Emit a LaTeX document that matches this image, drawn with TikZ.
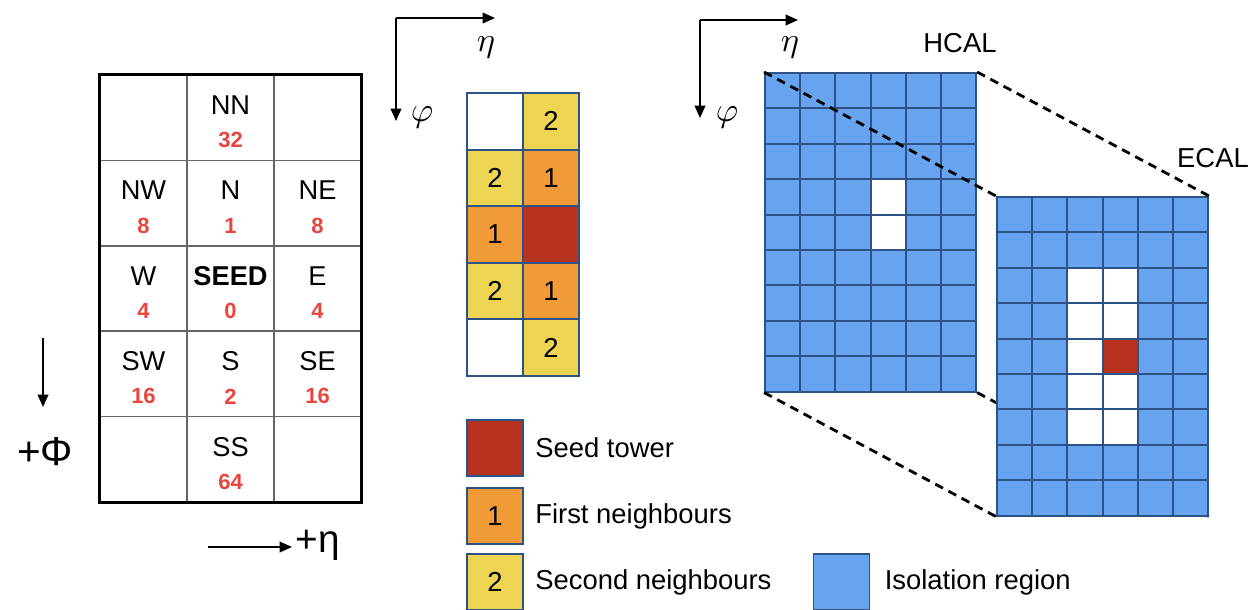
\documentclass[tikz,border=0pt]{standalone}
\usepackage{graphicx}
\usepackage{fontspec}
\setmainfont{Liberation Sans}
\usepackage{tikz}
\usetikzlibrary{arrows.meta, positioning, backgrounds}
\definecolor{towerred}{HTML}{B83220}
\definecolor{firstorange}{HTML}{F09A38}
\definecolor{secondyellow}{HTML}{EDD452}
\definecolor{isoblue}{HTML}{67A3EE}
\definecolor{cellborder}{HTML}{2D5288}
\definecolor{bitred}{HTML}{E8453C}

\begin{document}
\begin{tikzpicture}[x=0.02cm, y=-0.02cm]
    \tikzstyle{dircell}=[draw=gray!80!black, line width=0.8pt, minimum width=1.74cm, minimum height=1.708cm, inner sep=0pt]
    \tikzstyle{dirname}=[inner sep=0pt, font=\fontsize{15.5}{18}\selectfont]
    \tikzstyle{dirbit}=[inner sep=0pt, text=bitred, font=\fontsize{12.5}{15}\selectfont\bfseries]
    \tikzstyle{tower}=[draw=cellborder, line width=1.1pt, minimum width=1.12cm, minimum height=1.13cm,
                       inner sep=0pt, font=\fontsize{15.6}{18}\selectfont]
    \tikzstyle{calo}=[draw=cellborder, line width=1.1pt, minimum width=0.704cm, minimum height=0.708cm, inner sep=0pt]
    \tikzstyle{axis}=[-{Triangle[length=7pt,width=6pt]}, line width=1.1pt]
    \tikzstyle{link}=[dash pattern=on 5pt off 3.5pt, line width=1.6pt]
    \tikzstyle{caption}=[inner sep=0pt, font=\fontsize{15.6}{18}\selectfont]
    \tikzstyle{greek}=[inner sep=0pt]

    \useasboundingbox (0,0) rectangle (1250,609);

    % directions around the seed
    \foreach \c in {1,2,3}
      \foreach \r in {1,...,5}
        \node[dircell] (d-\c-\r) at ({100+87*(\c-0.5)},{75+85.4*(\r-0.5)}) {};
    \draw[line width=2pt] (d-1-1.north west) rectangle (d-3-5.south east);
    \foreach \c/\r/\name/\bit in {2/1/NN/32, 1/2/NW/8, 2/2/N/1, 3/2/NE/8, 1/3/W/4, 2/3/\textbf{SEED}/0,
                                  3/3/E/4, 1/4/SW/16, 2/4/S/2, 3/4/SE/16, 2/5/SS/64}{
      \node[dirname] (n-\c-\r) at ([yshift=0.25cm]d-\c-\r.center) {\name};
      \node[dirbit]  (b-\c-\r) at ([yshift=-0.45cm]d-\c-\r.center) {\bit};
    }
    \coordinate (phi-start) at (43,338);
    \coordinate (phi-end)   at (43,407);
    \draw[axis] (phi-start) -- (phi-end);
    \node[inner sep=0pt, font=\fontsize{23}{25}\selectfont] (phi) at (45,452) {+Φ};
    \coordinate (eta-start) at (208,547);
    \coordinate (eta-end)   at (292,547);
    \draw[axis] (eta-start) -- (eta-end);
    \node[inner sep=0pt, font=\fontsize{22}{24}\selectfont] (eta) at (318,545) {+η};

    % neighbour map
    \coordinate (m-corner) at (396,18);
    \coordinate (m-eta)    at (495,18);
    \coordinate (m-phi)    at (396,121);
    \draw[axis] (m-corner) -- (m-eta);
    \draw[axis] (m-corner) -- (m-phi);
    \node[greek] (m-eta-label) at (486,47)  {\scalebox{1.95}{$\eta$}};
    \node[greek] (m-phi-label) at (422,117) {\scalebox{1.95}{$\varphi$}};
    \foreach \c/\r/\shade/\rank in {1/1/white/{}, 2/1/secondyellow/2, 1/2/secondyellow/2, 2/2/firstorange/1,
                                    1/3/firstorange/1, 2/3/towerred/{}, 1/4/secondyellow/2, 2/4/firstorange/1,
                                    1/5/white/{}, 2/5/secondyellow/2}
      \node[tower, fill=\shade] (t-\c-\r) at ({467+56*(\c-0.5)},{93+56.6*(\r-0.5)}) {\rank};

    % legend
    \node[tower, fill=towerred]     (key-seed)   at (495,448) {};
    \node[tower, fill=firstorange]  (key-first)  at (495,516) {1};
    \node[tower, fill=secondyellow] (key-second) at (495,582) {2};
    \node[tower, fill=isoblue]      (key-iso)    at (841.5,582) {};
    \node[caption, right=0.22cm of key-seed]   (txt-seed)   {Seed tower};
    \node[caption, right=0.22cm of key-first]  (txt-first)  {First neighbours};
    \node[caption, right=0.22cm of key-second] (txt-second) {Second neighbours};
    \node[caption, right=0.28cm of key-iso]    (txt-iso)    {Isolation region};

    % HCAL
    \coordinate (c-corner) at (700,20);
    \coordinate (c-eta)    at (798,20);
    \coordinate (c-phi)    at (700,118);
    \draw[axis] (c-corner) -- (c-eta);
    \draw[axis] (c-corner) -- (c-phi);
    \node[greek] (c-eta-label) at (790,47)  {\scalebox{1.95}{$\eta$}};
    \node[greek] (c-phi-label) at (727,117) {\scalebox{1.95}{$\varphi$}};
    \foreach \c in {1,...,6}
      \foreach \r in {1,...,9}{
        \def\shade{isoblue}
        \ifnum\c=4 \ifnum\r>3 \ifnum\r<6 \def\shade{white}\fi\fi\fi
        \node[calo, fill=\shade] (h-\c-\r) at ({765+35.2*(\c-0.5)},{73+35.4*(\r-0.5)}) {};
      }
    \node[caption] (hcal) at (960,43) {HCAL};

    % ECAL
    \foreach \c in {1,...,6}
      \foreach \r in {1,...,9}{
        \def\shade{isoblue}
        \ifnum\c>2 \ifnum\c<5 \ifnum\r>2 \ifnum\r<8 \def\shade{white}\fi\fi\fi\fi
        \ifnum\c=4 \ifnum\r=5 \def\shade{towerred}\fi\fi
        \node[calo, fill=\shade] (e-\c-\r) at ({997+35.2*(\c-0.5)},{197+35.4*(\r-0.5)}) {};
      }
    \node[caption] (ecal) at (1213,158) {ECAL};

    \draw[link] (h-1-1.north west) -- (e-1-1.north west);
    \draw[link] (h-6-1.north east) -- (e-6-1.north east);
    \draw[link] (h-1-9.south west) -- (e-1-9.south west);
    \begin{scope}[on background layer]
      \draw[link] (h-6-9.south east) -- (e-6-9.south east);
    \end{scope}
\end{tikzpicture}
\end{document}
